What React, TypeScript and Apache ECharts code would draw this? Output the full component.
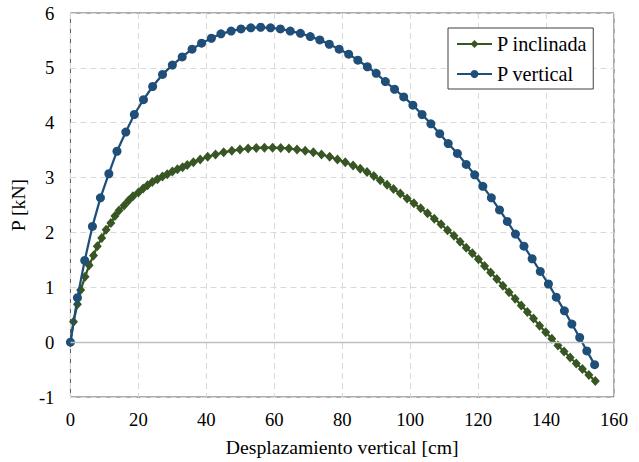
import React, { useEffect, useRef } from "react";
import * as echarts from "echarts";

const xTicks = [0, 20, 40, 60, 80, 100, 120, 140, 160];
const yTicks = [-1, 0, 1, 2, 3, 4, 5, 6];

const seriesNames = ["P inclinada", "P vertical"];

const xInclinada = [
  0, 0.9, 2.06, 3.0, 4.3, 5.5, 6.8, 7.9, 9.2, 10.5, 11.9, 13.1, 14.3, 15.8, 17.1, 18.4, 20.0,
  21.4, 22.7, 24.1, 25.6, 27.1, 28.5, 30.0, 31.5, 33.0, 34.4, 36.2, 38.2, 40.4, 42.7, 45.1,
  47.5, 49.9, 52.3, 54.7, 57.1, 59.5, 61.9, 64.3, 66.7, 69.1, 71.5, 73.9, 76.3, 78.6, 80.9,
  83.2, 85.3, 87.3, 89.3, 91.2, 93.2, 95.1, 97.1, 99.1, 101.1, 103.1, 105.1, 107.1, 109.1,
  111.0, 112.9, 114.7, 116.5, 118.3, 120.1, 121.9, 123.7, 125.5, 127.3, 129.1, 130.9, 132.7,
  134.5, 136.3, 138.1, 139.9, 141.7, 143.5, 145.3, 147.1, 148.9, 150.7, 152.6, 154.5,
];
const pInclinada = [
  0, 0.37, 0.69, 0.95, 1.19, 1.4, 1.58, 1.75, 1.9, 2.05, 2.17, 2.3, 2.4, 2.49, 2.58, 2.66, 2.73,
  2.8, 2.86, 2.92, 2.97, 3.02, 3.06, 3.11, 3.15, 3.19, 3.23, 3.28, 3.33, 3.38, 3.42, 3.46,
  3.49, 3.51, 3.53, 3.54, 3.545, 3.545, 3.54, 3.53, 3.51, 3.49, 3.46, 3.42, 3.38, 3.33, 3.28,
  3.22, 3.16, 3.1, 3.03, 2.95, 2.87, 2.79, 2.71, 2.62, 2.53, 2.44, 2.35, 2.25, 2.15,
  2.04, 1.94, 1.83, 1.72, 1.62, 1.51, 1.39, 1.27, 1.15, 1.03, 0.91, 0.79, 0.67,
  0.55, 0.43, 0.3, 0.18, 0.06, -0.06, -0.17, -0.28, -0.39, -0.49, -0.6, -0.71,
];

const xVertical = [
  0, 2.06, 4.2, 6.47, 8.83, 11.3, 13.7, 16.3, 18.8, 21.5, 24.2, 27.1, 30.0, 32.9, 35.8, 38.6,
  41.5, 44.3, 47.3, 50.2, 53.1, 56.0, 58.9, 61.8, 64.7, 67.7, 70.6, 73.4, 76.2, 79.1, 81.9,
  84.6, 87.4, 90.0, 92.7, 95.4, 98.1, 100.8, 103.5, 106.1, 108.7, 111.2, 113.9, 116.5, 119.0,
  121.4, 123.9, 126.3, 128.6, 131.0, 133.5, 135.9, 138.3, 140.7, 143.0, 145.4, 147.6, 149.9,
  152.0, 154.3,
];
const pVertical = [
  0, 0.81, 1.49, 2.11, 2.63, 3.07, 3.48, 3.83, 4.15, 4.42, 4.66, 4.88, 5.05, 5.2, 5.34, 5.45,
  5.54, 5.62, 5.67, 5.71, 5.73, 5.74, 5.73, 5.71, 5.67, 5.63, 5.57, 5.51, 5.43, 5.34, 5.25,
  5.14, 5.02, 4.9, 4.75, 4.61, 4.47, 4.32, 4.15, 3.98, 3.8, 3.62, 3.44, 3.24, 3.05,
  2.84, 2.63, 2.41, 2.2, 1.97, 1.75, 1.52, 1.29, 1.06, 0.82, 0.57, 0.33, 0.085,
  -0.16, -0.41,
];

const FONT = "'Liberation Serif', 'Times New Roman', serif";
const FS = 18.67;
const FS_TITLE = 19.7;
const FS_LEGEND = 20.2;

export default function App() {
  const ref = useRef<HTMLDivElement>(null);
  useEffect(() => {
    document.body.style.margin = "0";
    const chart = echarts.init(ref.current!, undefined, { renderer: "svg" });
    const gridLine = { show: true, lineStyle: { color: "#d9d9d9", type: [6, 4] as any, width: 1 } };
    chart.setOption({
      animation: false,
      backgroundColor: "#ffffff",
      textStyle: { fontFamily: FONT },
      grid: {
        left: 70,
        right: 25,
        top: 13,
        bottom: 63,
        show: true,
        borderColor: "#595959",
        borderWidth: 1,
        backgroundColor: "transparent",
      },
      legend: {
        data: seriesNames,
        orient: "vertical",
        left: 448,
        top: 28,
        padding: [6, 6, 5, 8],
        itemGap: 10,
        itemWidth: 35,
        itemHeight: 10,
        backgroundColor: "#ffffff",
        borderColor: "#404040",
        borderWidth: 1,
        textStyle: { fontFamily: FONT, fontSize: FS_LEGEND, color: "#000" },
      },
      xAxis: {
        type: "value",
        min: xTicks[0],
        max: xTicks[xTicks.length - 1],
        interval: xTicks[1] - xTicks[0],
        name: "Desplazamiento vertical [cm]",
        nameLocation: "middle",
        nameGap: 40,
        nameTextStyle: { fontFamily: FONT, fontSize: FS_TITLE, color: "#000" },
        axisLine: { show: false },
        axisTick: { show: false },
        axisLabel: { fontFamily: FONT, fontSize: FS, color: "#000", margin: 13 },
        splitLine: gridLine,
      },
      yAxis: {
        type: "value",
        min: yTicks[0],
        max: yTicks[yTicks.length - 1],
        interval: yTicks[1] - yTicks[0],
        name: "P [kN]",
        nameLocation: "middle",
        nameGap: 37,
        nameTextStyle: { fontFamily: FONT, fontSize: FS_TITLE, color: "#000" },
        axisLine: { show: false },
        axisTick: { show: false },
        axisLabel: { fontFamily: FONT, fontSize: FS, color: "#000", margin: 16 },
        splitLine: gridLine,
      },
      series: [
        {
          type: "line",
          data: [],
          z: 1,
          silent: true,
          markLine: {
            silent: true,
            symbol: ["none", "none"],
            label: { show: false },
            lineStyle: { color: "#bfbfbf", type: "solid", width: 1.3 },
            data: [{ yAxis: 0 }],
          },
        },
        {
          name: seriesNames[0],
          type: "line",
          z: 2,
          data: xInclinada.map((x, i) => [x, pInclinada[i]]),
          symbol: "diamond",
          symbolSize: [9, 10],
          showAllSymbol: true,
          itemStyle: { color: "#375623" },
          lineStyle: { color: "#375623", width: 2.25 },
        },
        {
          name: seriesNames[1],
          type: "line",
          z: 3,
          data: xVertical.map((x, i) => [x, pVertical[i]]),
          symbol: "circle",
          symbolSize: 9,
          showAllSymbol: true,
          itemStyle: { color: "#1f4e79" },
          lineStyle: { color: "#1f4e79", width: 2.25 },
        },
      ],
    });
    return () => chart.dispose();
  }, []);
  return (
    <div
      ref={ref}
      style={{ position: "fixed", left: 0, top: 0, width: 639, height: 462 }}
    />
  );
}
